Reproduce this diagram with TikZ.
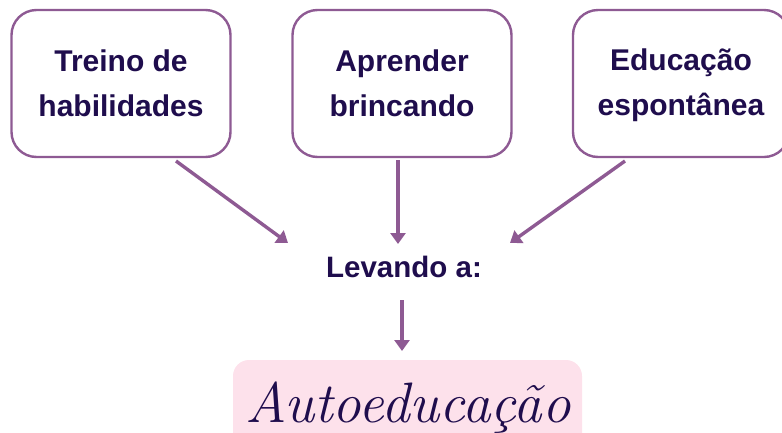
\documentclass[tikz,border=0pt]{standalone}
\usepackage{fontspec}
\setmainfont{Liberation Sans}
\newfontfamily\scriptfam{Latin Modern Roman}
\usetikzlibrary{arrows.meta}
\definecolor{bordc}{HTML}{8E5A93}
\definecolor{txtc}{HTML}{1F0D4D}
\definecolor{pinkc}{HTML}{FDE1EB}
\tikzset{
  box/.style={draw=bordc, line width=2.4pt, rounded corners=25pt, fill=white,
    minimum width=219pt, minimum height=147pt, align=center, text=txtc,
    font=\fontsize{30}{45}\selectfont\bfseries, inner sep=0pt},
  arr/.style={draw=bordc, line width=3.4pt, -{Triangle[length=11pt,width=15pt]}},
}
\newcommand{\mystrut}{\rule[-6pt]{0pt}{32pt}}
\begin{document}
\begin{tikzpicture}[x=1pt,y=-1pt]
\useasboundingbox (0,0) rectangle (782,432);
\node[box] (b1) at (121,83.5) {\mystrut Treino de\\\mystrut habilidades};
\node[box] (b2) at (402,83.5) {\mystrut Aprender\\\mystrut brincando};
\node[box, minimum width=216pt] (b3) at (681,83.5) {\mystrut Educação\\\mystrut espontânea};
\node[text=txtc, font=\fontsize{29.5}{35}\selectfont\bfseries, inner sep=0pt] (lev) at (404,267) {Levando a:};
\fill[pinkc, rounded corners=16pt] (233,360) rectangle (582,460);
\node[text=txtc, font=\scriptfam\itshape\fontsize{57}{60}\selectfont, anchor=base, inner sep=0pt] (auto) at (408,422) {Autoeducação};
\coordinate (s1) at (176,161);
\coordinate (e1) at (288,243);
\coordinate (s2) at (398,160);
\coordinate (e2) at (398,244);
\coordinate (s3) at (625,161);
\coordinate (e3) at (510,243);
\coordinate (s4) at (402,300);
\coordinate (e4) at (402,351);
\draw[arr] (s1) -- (e1);
\draw[arr] (s2) -- (e2);
\draw[arr] (s3) -- (e3);
\draw[arr] (s4) -- (e4);
\end{tikzpicture}
\end{document}
